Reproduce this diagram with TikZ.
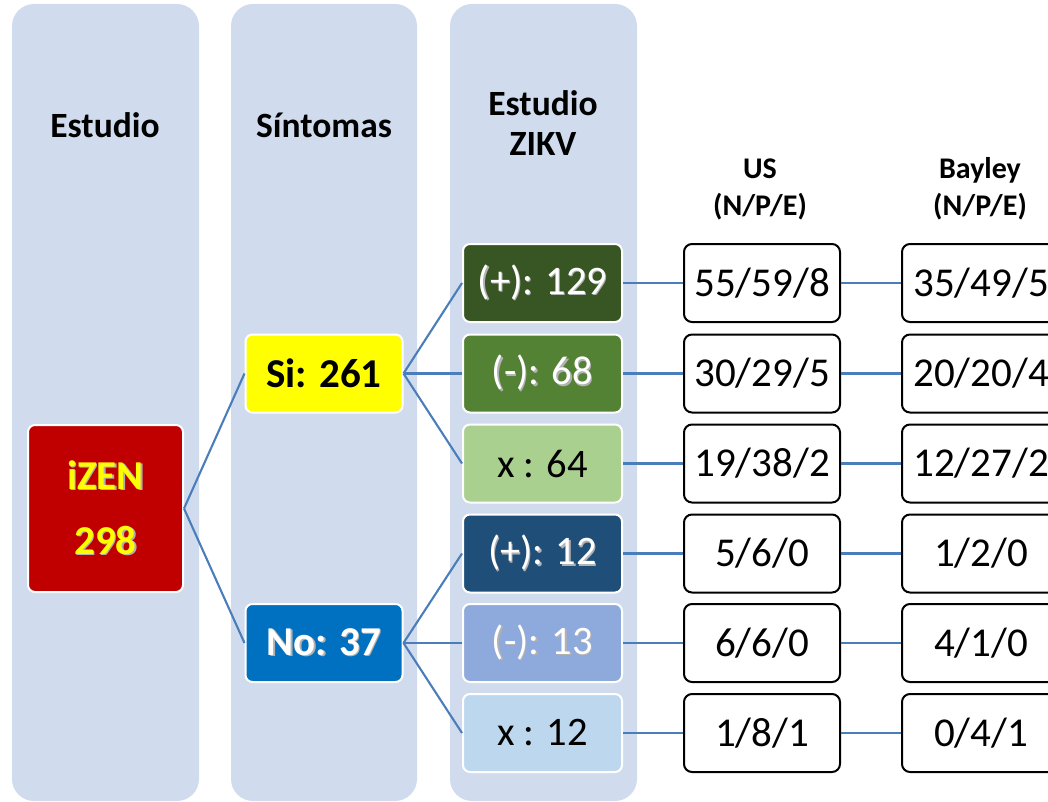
\documentclass[tikz,border=0pt]{standalone}
\usepackage{fontspec}
\setmainfont{Carlito}
\definecolor{colbg}{HTML}{D0DCEE}
\definecolor{linkc}{HTML}{4A7EBB}
\definecolor{izenred}{HTML}{C00000}
\definecolor{siyel}{HTML}{FFFF00}
\definecolor{noblue}{HTML}{0070C0}
\definecolor{zka}{HTML}{375623}
\definecolor{zkb}{HTML}{548235}
\definecolor{zkc}{HTML}{A9D08E}
\definecolor{zkd}{HTML}{1F4E79}
\definecolor{zke}{HTML}{8EA9DB}
\definecolor{zkf}{HTML}{BDD7EE}
\newcommand{\shd}[2][white]{\leavevmode\rlap{\kern1.3pt\raisebox{-1.3pt}{\textcolor{black!30}{#2}}}\textcolor{#1}{#2}}
\tikzset{
  colbox/.style={fill=colbg, rounded corners=22pt},
  cat/.style={draw=white, line width=2pt, rounded corners=7pt, minimum width=157pt, minimum height=78pt, inner sep=0pt, font=\bfseries\fontsize{41}{48}\selectfont},
  zk/.style={draw=white, line width=2pt, rounded corners=7pt, minimum width=159pt, minimum height=78pt, inner sep=0pt, font=\fontsize{40.5}{48}\selectfont},
  val/.style={draw=black, line width=2pt, rounded corners=8pt, fill=white, minimum width=156pt, minimum height=78pt, inner sep=0pt, font=\fontsize{41}{48}\selectfont},
  link/.style={draw=linkc, line width=2.1pt},
  hdr/.style={font=\bfseries\fontsize{35.5}{40}\selectfont, align=center, inner sep=0pt},
  shdr/.style={font=\bfseries\fontsize{30}{37}\selectfont, align=center, inner sep=0pt},
}
\begin{document}
\begin{tikzpicture}[x=1pt,y=-1pt]
\useasboundingbox (0,0) rectangle (1048,802);
% column backgrounds
\fill[colbox] (12,4) rectangle (199,801);
\fill[colbox] (231,4) rectangle (417,801);
\fill[colbox] (450,4) rectangle (637,801);
% headers
\node[hdr] (h1) at (105,125) {Estudio};
\node[hdr] (h2) at (324,125) {Síntomas};
\node[hdr] (h3) at (543,123) {Estudio\\ZIKV};
\node[shdr] (h4) at (760,189) {US\\(N/P/E)};
\node[shdr] (h5) at (980,189) {Bayley\\(N/P/E)};
% main nodes
\node[cat, fill=izenred, minimum width=155pt, minimum height=167pt, align=center, font=\bfseries\fontsize{41}{65}\selectfont] (izen) at (105.5,508.5) {\shd[siyel]{iZEN}\\\shd[siyel]{298}};
\node[cat, fill=siyel] (si) at (324,373.5) {Si: 261};
\node[cat, fill=noblue] (no) at (324,643) {\shd{No: 37}};
% ZIKV
\node[zk, fill=zka] (z1) at (542.5,283) {\shd{(+): 129}};
\node[zk, fill=zkb] (z2) at (542.5,373.5) {\shd{(-): 68}};
\node[zk, fill=zkc] (z3) at (542.5,463.5) {x : 64};
\node[zk, fill=zkd] (z4) at (542.5,553.5) {\shd{(+): 12}};
\node[zk, fill=zke] (z5) at (542.5,643) {\shd{(-): 13}};
\node[zk, fill=zkf] (z6) at (542.5,733) {x : 12};
% US
\node[val] (u1) at (762,283) {55/59/8};
\node[val] (u2) at (762,373.5) {30/29/5};
\node[val] (u3) at (762,463.5) {19/38/2};
\node[val] (u4) at (762,553.5) {5/6/0};
\node[val] (u5) at (762,643) {6/6/0};
\node[val] (u6) at (762,733) {1/8/1};
% Bayley
\node[val, minimum width=158pt] (b1) at (981,283) {35/49/5};
\node[val, minimum width=158pt] (b2) at (981,373.5) {20/20/4};
\node[val, minimum width=158pt] (b3) at (981,463.5) {12/27/2};
\node[val, minimum width=158pt] (b4) at (981,553.5) {1/2/0};
\node[val, minimum width=158pt] (b5) at (981,643) {4/1/0};
\node[val, minimum width=158pt] (b6) at (981,733) {0/4/1};
% connectors
\draw[link] (izen.east) -- (si.west);
\draw[link] (izen.east) -- (no.west);
\foreach \k in {1,2,3} {\draw[link] (si.east) -- (z\k.west);}
\foreach \k in {4,5,6} {\draw[link] (no.east) -- (z\k.west);}
\foreach \k in {1,...,6} {
  \draw[link] (z\k.east) -- (u\k.west);
  \draw[link] (u\k.east) -- (b\k.west);
}
\end{tikzpicture}
\end{document}
